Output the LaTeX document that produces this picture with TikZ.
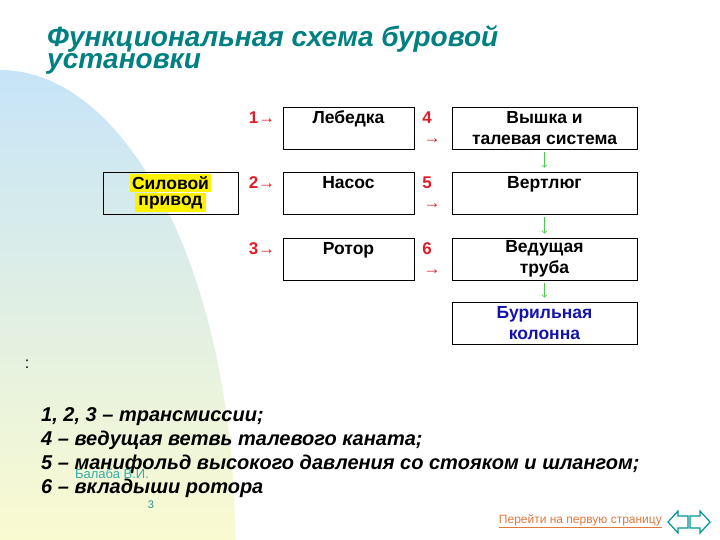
\documentclass[tikz,border=0pt]{standalone}
\usepackage{fontspec}
\setmainfont{Liberation Sans}
\definecolor{zagolovok}{RGB}{0,128,128}
\definecolor{nomera}{RGB}{228,28,40}
\definecolor{zelen}{RGB}{70,205,70}
\definecolor{sinij}{RGB}{20,20,170}
\definecolor{fonverh}{RGB}{198,228,248}
\definecolor{fonsered}{RGB}{226,240,228}
\definecolor{fonniz}{RGB}{250,250,208}
\definecolor{ssylka}{RGB}{222,120,60}
\definecolor{navig}{RGB}{0,150,150}
\tikzset{
  blok/.style={draw, line width=0.8pt, minimum width=131pt, minimum height=42pt,
    inner sep=0pt, align=center, font=\fontsize{17.5}{21}\selectfont\bfseries},
  shirokij/.style={blok, minimum width=185pt},
  nomer/.style={text=nomera, inner sep=0pt, font=\fontsize{17}{19}\selectfont},
  spusk/.style={draw=zelen, line width=0.8pt, ->, shorten >=4pt, shorten <=3pt},
  knopka/.style={draw=navig, line width=1.2pt, fill=white, line join=miter}
}
\begin{document}
\begin{tikzpicture}[x=1pt,y=-1pt]
    \useasboundingbox (0,0) rectangle (720,540);
    \shade[top color=fonverh, middle color=fonsered, bottom color=fonniz]
        (0,540) -- (0,70) arc[start angle=-90, end angle=0, x radius=235, y radius=470] -- cycle;
    \node (titul) [anchor=north west, inner sep=0pt, align=left, text=zagolovok,
        font=\fontsize{28}{22}\selectfont\bfseries\itshape] at (47,25)
        {Функциональная схема буровой\\установки};

    \node (privod) [blok, minimum width=135pt] at (170.5,193)
        {\setlength{\fboxsep}{2.5pt}\colorbox{yellow}{Силовой}\\[-5pt]\colorbox{yellow}{привод}};
    \node (lebedka) [blok] at (348.5,128) {Лебедка\\~};
    \node (nasos) [blok] at (348.5,193) {Насос\\~};
    \node (rotor) [blok] at (348.5,259) {Ротор\\~};
    \node (vyshka) [shirokij] at (544.5,128) {Вышка и\\талевая система};
    \node (vertlyug) [shirokij] at (544.5,193) {Вертлюг\\~};
    \node (vedtruba) [shirokij] at (544.5,259) {Ведущая\\труба};
    \node (kolonna) [shirokij, text=sinij] at (544.5,323) {Бурильная\\колонна};

    \foreach \a/\b/\y in {1/4/118, 2/5/183, 3/6/249}{
        \node (l\a) [nomer] at (262,\y) {\bfseries\a→};
        \node (r\b) [nomer] at (427,\y) {\bfseries\b};
        \node (s\b) [nomer] at (432,\y+23) {→};
    }
    \draw[spusk] (vyshka) -- (vertlyug);
    \draw[spusk] (vertlyug) -- (vedtruba);
    \draw[spusk] (vedtruba) -- (kolonna);

    \node (dvoetochie) [font=\fontsize{16}{18}\selectfont] at (27,364) {:};
    \node (spisok) [anchor=north west, inner sep=0pt, align=left,
        font=\fontsize{20}{24}\selectfont\bfseries\itshape] at (41,407)
        {1, 2, 3 – трансмиссии;\\
         4 – ведущая ветвь талевого каната;\\
         5 – манифольд высокого давления со стояком и шлангом;\\
         6 – вкладыши ротора};
    \node (avtor) [text=navig!80, font=\fontsize{13}{15}\selectfont] at (112,474) {Балаба В.И.};
    \node (stranica) [text=navig!60!gray, font=\fontsize{11}{13}\selectfont] at (151,505) {3};
    \node (perehod) [text=ssylka, anchor=east, inner sep=0pt, font=\fontsize{12}{14}\selectfont]
        at (662,521) {\underline{Перейти на первую страницу}};
    \draw[knopka] (668,522) -- (678,511) -- (678,516) -- (688,516) -- (688,528)
        -- (678,528) -- (678,533) -- cycle;
    \draw[knopka] (710,522) -- (700,511) -- (700,516) -- (690,516) -- (690,528)
        -- (700,528) -- (700,533) -- cycle;
\end{tikzpicture}
\end{document}
